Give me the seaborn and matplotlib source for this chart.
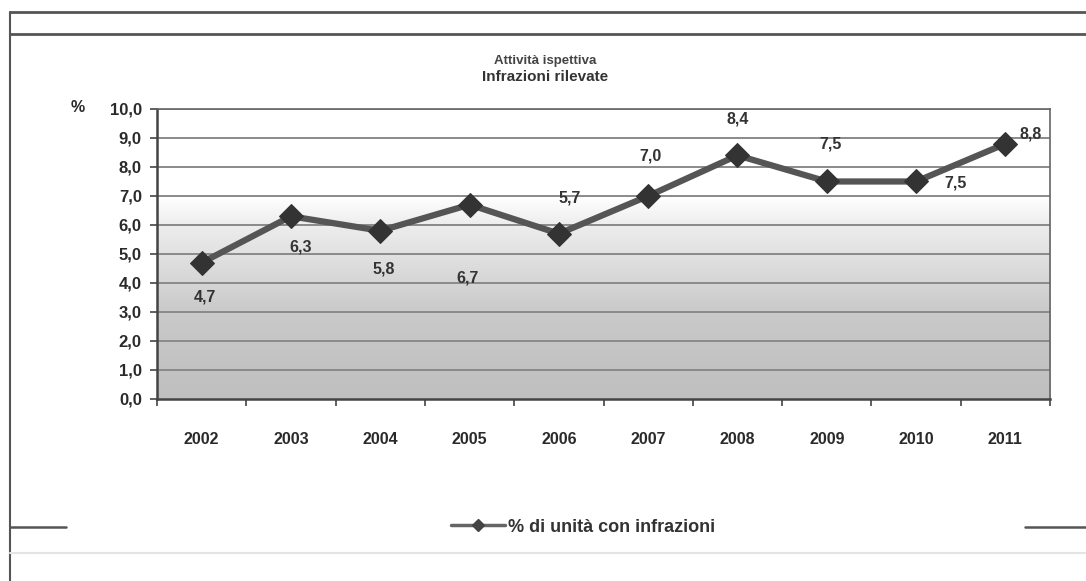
import numpy as np
import pandas as pd
import matplotlib
matplotlib.use("Agg")
import matplotlib.pyplot as plt
from matplotlib.lines import Line2D
import seaborn as sns

years = ["2002", "2003", "2004", "2005", "2006", "2007", "2008", "2009", "2010", "2011"]
values = [4.7, 6.3, 5.8, 6.7, 5.7, 7.0, 8.4, 7.5, 7.5, 8.8]
series_name = "% di unità con infrazioni"
title_top = "Attività ispettiva"
title_main = "Infrazioni rilevate"
# label offsets in pixels (dx, dy), positive dy = up
label_offsets = [(3, -34), (10, -31), (3, -38), (-2, -73), (11, 36),
                 (2, 40), (0, 36), (4, 37), (39, -2), (25, 10)]

sns.set_theme(style="white")
plt.rcParams['font.family'] = ['Liberation Sans', 'DejaVu Sans']

df = pd.DataFrame({"pos": np.arange(len(years)), "val": values})

fig = plt.figure(figsize=(10.86, 5.81), dpi=100)
ax = fig.add_axes([0.1446, 0.3133, 0.8223, 0.4991])

# gradient background
grad = np.interp(np.linspace(1, 0, 256), [0.0, 0.3, 0.6, 0.7, 1.0], [0.75, 0.79, 0.93, 1.0, 1.0])
img = np.dstack([grad, grad, grad]).reshape(256, 1, 3)
ax.imshow(img, extent=[0, 1, 0, 1], transform=ax.transAxes, aspect='auto', zorder=0)

for yv in np.arange(1, 10.5, 1.0):
    ax.axhline(yv, color="#8a8a8a", lw=1.4, zorder=1)

sns.lineplot(data=df, x="pos", y="val", ax=ax, color="#555555", lw=4.5,
             marker="D", markersize=12, markerfacecolor="#333333",
             markeredgecolor="#333333", zorder=3, legend=False)

for i, (v, (dx, dy)) in enumerate(zip(values, label_offsets)):
    ax.annotate(f"{v:.1f}".replace(".", ","), (i, v), xytext=(dx, dy),
                textcoords="offset pixels", ha="center", va="center",
                fontsize=11.5, color="#333333", fontweight="bold", zorder=4)

ax.set_xlim(-0.5, len(years) - 0.5)
ax.set_ylim(0, 10)
ax.set_xticks(np.arange(len(years)))
ax.set_xticklabels(years, fontsize=11.5, color="#2a2a2a", fontweight="bold")
ax.set_xticks(np.arange(-0.5, len(years)), minor=True)
ax.tick_params(axis="x", which="major", length=0, pad=24)
ax.tick_params(axis="x", which="minor", length=5, width=1.2, color="#444444", direction="out", bottom=True)
ax.set_yticks(np.arange(0, 10.5, 1.0))
ax.set_yticklabels([f"{t:.1f}".replace(".", ",") for t in np.arange(0, 10.5, 1.0)],
                   fontsize=12, color="#2a2a2a", fontweight="bold")
ax.tick_params(axis="y", length=5, width=1.2, color="#444444", direction="out", left=True, pad=6)
ax.set_xlabel("")
ax.set_ylabel("")
for side, sp in ax.spines.items():
    sp.set_visible(True)
    sp.set_color("#666666")
    sp.set_linewidth(1.2)
ax.spines["left"].set_color("#444444")
ax.spines["bottom"].set_color("#444444")
ax.spines["left"].set_linewidth(1.8)
ax.spines["bottom"].set_linewidth(1.8)

fig.text(78 / 1086, 1 - 107 / 581, "%", fontsize=11.5, color="#2a2a2a", ha="center", va="center", fontweight="bold")
fig.text(545 / 1086, 1 - 61 / 581, title_top, fontsize=9.5, color="#444444", ha="center", va="center", fontweight="bold")
fig.text(545 / 1086, 1 - 77 / 581, title_main, fontsize=11, color="#333333", ha="center", va="center", fontweight="bold")

# legend
leg_handle = Line2D([0], [0], color="#666666", lw=2.5, marker="D", markersize=6,
                    markerfacecolor="#444444", markeredgecolor="#444444")
fig.legend([leg_handle], [series_name], loc="center", bbox_to_anchor=(583 / 1086, 1 - 527 / 581),
           frameon=False, fontsize=13, handlelength=3.0, handletextpad=0.15,
           labelcolor="#333333", prop={"weight": "bold", "size": 13})

# outer frame lines (scan look)
def fline(x0, y0, x1, y1, color="#555555", lw=1.5):
    fig.add_artist(Line2D([x0 / 1086, x1 / 1086], [1 - y0 / 581, 1 - y1 / 581],
                          color=color, lw=lw, transform=fig.transFigure))

fline(10, 12, 1086, 12, lw=2)
fline(10, 34, 1086, 34, lw=2)
fline(10, 12, 10, 581, lw=1.5)
fline(10, 527, 66, 527, lw=1.8)
fline(1025, 527, 1086, 527, lw=1.8)
fline(10, 553, 1086, 553, color="#e4e4e4", lw=1.5)

fig.savefig("out.png", dpi=100)
